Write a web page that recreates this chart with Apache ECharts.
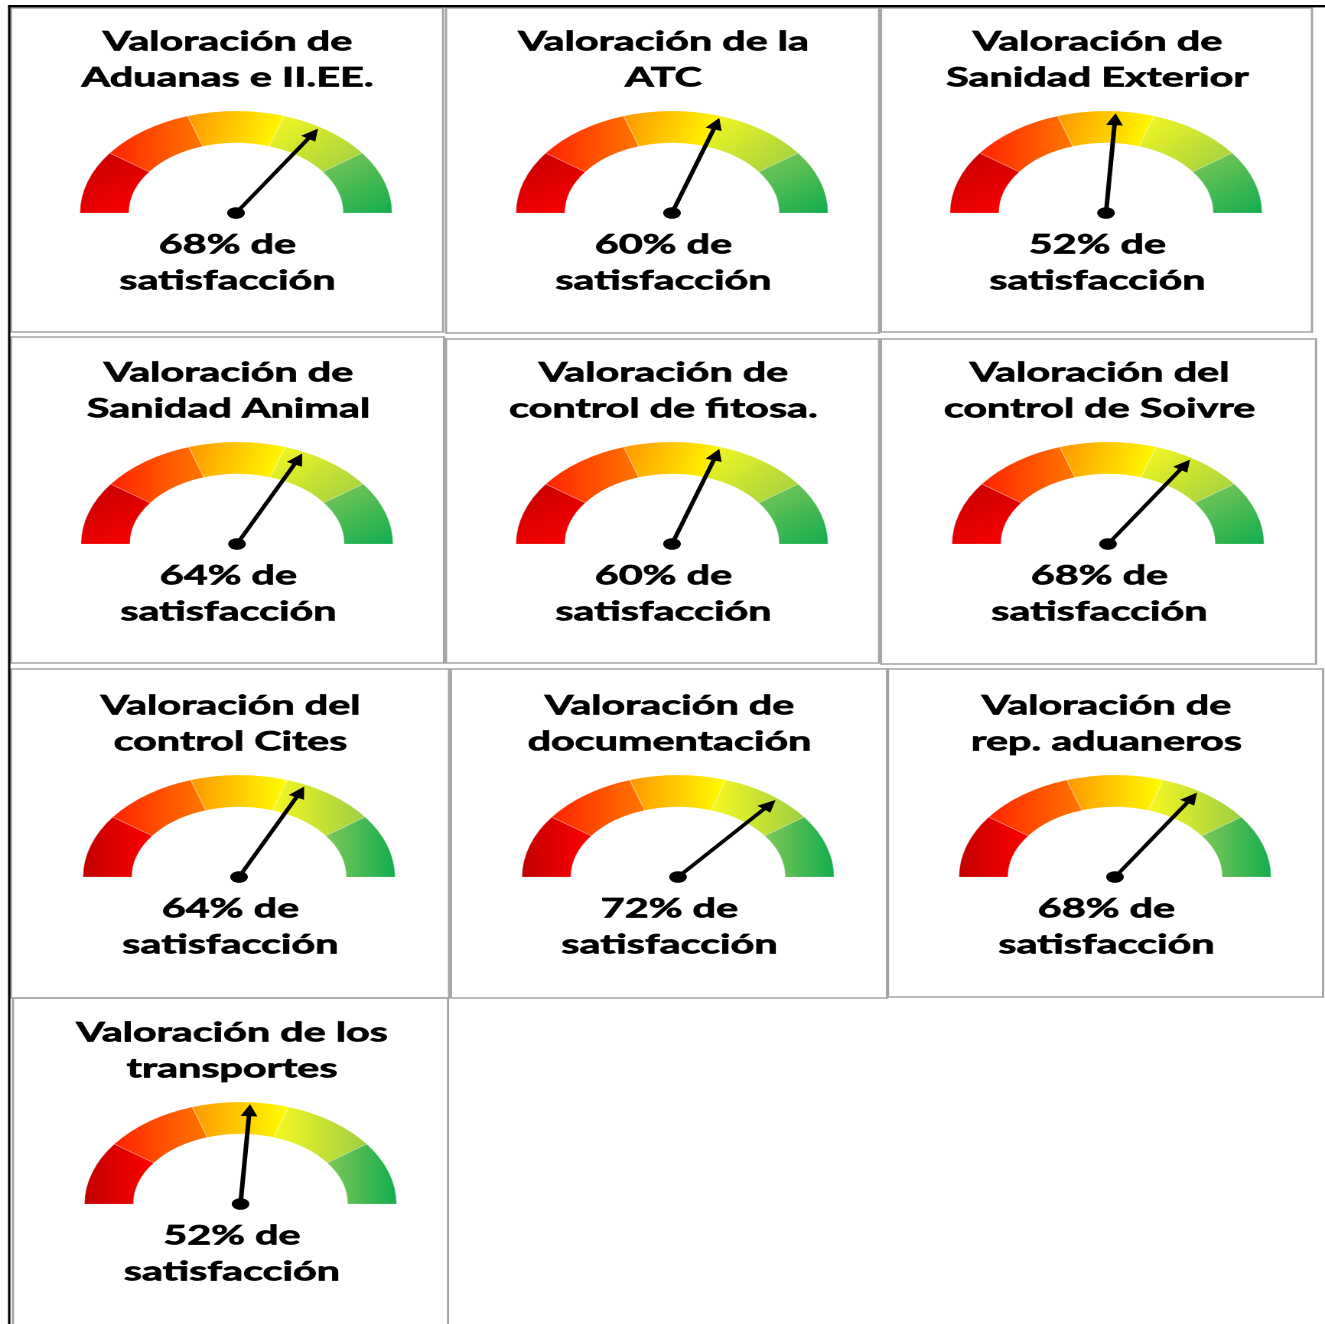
<!DOCTYPE html>
<html>
<head>
<meta charset="utf-8">
<script src="https://cdn.jsdelivr.net/npm/echarts@6/dist/echarts.min.js"></script>
<style>
html,body{margin:0;padding:0;background:#fff;overflow:hidden;}
#wrap{width:1325px;height:1324px;overflow:hidden;position:relative;background:#fff;}
#chart{width:866px;height:1324px;transform:scaleX(1.53);transform-origin:0 0;}
</style>
</head>
<body>
<div id="wrap"><div id="chart"></div></div>
<script>
// ---------- data ----------
const gaugeTitles = [
  'Valoración de\nAduanas e II.EE.',
  'Valoración de la\nATC',
  'Valoración de\nSanidad Exterior',
  'Valoración de\nSanidad Animal',
  'Valoración de\ncontrol de fitosa.',
  'Valoración del\ncontrol de Soivre',
  'Valoración del\ncontrol Cites',
  'Valoración de\ndocumentación',
  'Valoración de\nrep. aduaneros',
  'Valoración de los\ntransportes'
];
const satisfaction = [68, 60, 52, 64, 60, 68, 64, 72, 68, 52];
const bandEdges = [0, 20, 40, 60, 80, 100];
const valueSuffix = '% de\nsatisfacción';

// ---------- layout (reference pixel coords) ----------
const S = 1.53; // horizontal stretch of the picture
const panels = [
  [11, 8, 443, 332], [446, 8, 879, 333], [881, 8, 1312, 332],
  [11, 337, 444, 663], [446, 339, 879, 663], [881, 339, 1316, 664],
  [11, 669, 449, 998], [451, 669, 887, 998], [888, 669, 1323, 997],
  [13, 998, 448, 1340]
];
const centers = [
  [236, 213], [672, 213], [1106, 213],
  [237, 544], [672, 544], [1108, 544],
  [239, 877], [678, 877], [1115, 877],
  [240.5, 1204]
];

const FONT = 'Lato';
const FS = 27;
const LH = 36;
const TB = 0.7; // extra stroke to match heavy bold

const segColors = [
  ['#c20000', '#ff0000'],
  ['#ff2400', '#ff7800'],
  ['#ff9800', '#ffff00'],
  ['#f8f820', '#9ccf44'],
  ['#80c858', '#12ad4e']
];
const diagDirs = [[0,0,1,1],[0,0.5,1,0.5],[0,0.3,1,0.7],[0,0,1,1],[0,0,1,1]];
function grad(i, horizontal) {
  const d = horizontal ? [0, 0, 1, 0] : diagDirs[i];
  return {type: 'linear', x: d[0], y: d[1], x2: d[2], y2: d[3],
    colorStops: [{offset: 0, color: segColors[i][0]}, {offset: 1, color: segColors[i][1]}]};
}

const bandWidths = bandEdges.slice(1).map((e, i) => e - bandEdges[i]);
const bandTotal = bandEdges[bandEdges.length - 1] - bandEdges[0];

const series = [];
const titles = [];
satisfaction.forEach((v, k) => {
  const cx = centers[k][0] / S, cy = centers[k][1];
  const horizontal = k >= 6;
  series.push({
    type: 'pie', silent: true, z: 2, center: [cx, cy], radius: [70, 102],
    startAngle: 180, clockwise: true, label: {show: false}, labelLine: {show: false},
    emphasis: {disabled: true}, avoidLabelOverlap: false,
    itemStyle: {borderColor: 'rgba(255,255,255,0.35)', borderWidth: 0.6},
    data: bandWidths.map((w, i) => ({value: w, itemStyle: {color: grad(i, horizontal)}}))
      .concat([{value: bandTotal, itemStyle: {color: 'rgba(0,0,0,0)', borderWidth: 0}}])
  });
  series.push({
    type: 'gauge', z: 6, center: [cx, cy], radius: 102, startAngle: 180, endAngle: 0,
    min: bandEdges[0], max: bandEdges[bandEdges.length - 1],
    axisLine: {show: false}, splitLine: {show: false}, axisTick: {show: false}, axisLabel: {show: false},
    progress: {show: false},
    pointer: {show: true, icon: 'path://M5.5 0 L11 12 L7 12 L7 100 L4 100 L4 12 L0 12 Z',
      length: 100, width: 11, itemStyle: {color: '#000'}},
    anchor: {show: true, showAbove: true, size: 11.5, itemStyle: {color: '#000'}},
    title: {show: false},
    detail: {show: true, formatter: (val) => val + valueSuffix, offsetCenter: [-5.6, 50],
      fontFamily: FONT, fontWeight: 'bold', fontSize: FS, lineHeight: LH, color: '#000',
      textBorderColor: '#000', textBorderWidth: TB},
    data: [{value: v}]
  });
  titles.push({
    text: gaugeTitles[k], left: (centers[k][0] - 8.5) / S, top: cy - 171 - LH / 2,
    textAlign: 'center', padding: 0,
    textStyle: {fontFamily: FONT, fontWeight: 'bold', fontSize: FS, lineHeight: LH, color: '#000',
      textBorderColor: '#000', textBorderWidth: TB}
  });
});

const graphics = panels.map(p => ({
  type: 'rect', silent: true,
  shape: {x: p[0] / S, y: p[1], width: (p[2] - p[0]) / S, height: p[3] - p[1]},
  style: {fill: 'none', stroke: '#a3a3a3', lineWidth: 1.4}
}));
graphics.push({type: 'rect', silent: true, shape: {x: 8 / S, y: 5, width: 900, height: 2.4}, style: {fill: '#000'}});
graphics.push({type: 'rect', silent: true, shape: {x: 8 / S, y: 5, width: 2.4 / S, height: 1330}, style: {fill: '#000'}});

const chart = echarts.init(document.getElementById('chart'), null, {renderer: 'canvas', devicePixelRatio: 2});
chart.setOption({
  animation: false,
  backgroundColor: '#fff',
  title: titles,
  graphic: graphics,
  series: series
});
</script>
</body>
</html>
